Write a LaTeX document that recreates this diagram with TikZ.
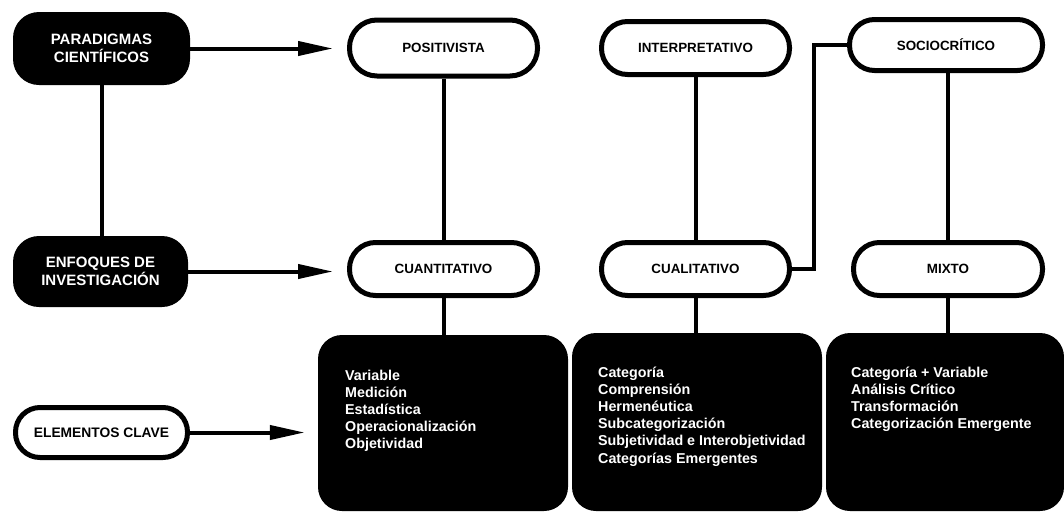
\documentclass[tikz,border=0pt]{standalone}
\usepackage{fontspec}
\setmainfont{Liberation Sans}
\usetikzlibrary{arrows.meta}
\begin{document}
\begin{tikzpicture}[x=1pt,y=-1pt,
  blk/.style={fill=black,text=white,rounded corners=26pt,inner sep=0pt,align=center,
    font=\fontsize{15}{18}\selectfont\bfseries},
  capsule/.style={draw=black,line width=5pt,fill=white,inner sep=0pt,align=center,
    rounded corners=26pt,font=\fontsize{13.4}{15}\selectfont\bfseries},
  bigbox/.style={fill=black,rounded corners=24pt,inner sep=0pt,minimum width=250pt},
  item/.style={text=white,anchor=north west,inner sep=0pt,align=left,
    font=\fontsize{14.3}{17.2}\selectfont\bfseries},
  conn/.style={line width=4pt},
  arr/.style={line width=4pt,-{Triangle[length=35pt,width=14pt]}}]
\useasboundingbox (0,0) rectangle (1064,512);

% left column
\node[blk,minimum width=177pt,minimum height=73pt] (par) at (101.5,48.5) {PARADIGMAS\\CIENTÍFICOS};
\node[blk,minimum width=175pt,minimum height=71pt] (enf) at (100.5,271.5) {ENFOQUES DE\\INVESTIGACIÓN};
\node[capsule,minimum width=172pt,minimum height=50pt,rounded corners=24.5pt,
  font=\fontsize{13.8}{15}\selectfont\bfseries] (elem) at (101.5,432.5) {ELEMENTOS CLAVE};

% paradigms
\node[capsule,minimum width=188pt,minimum height=56pt,rounded corners=27.5pt] (pos) at (443.5,48) {POSITIVISTA};
\node[capsule,minimum width=188pt,minimum height=53pt] (int) at (695.5,48) {INTERPRETATIVO};
\node[capsule,minimum width=193pt,minimum height=51pt,rounded corners=25pt] (soc) at (946,45) {SOCIOCRÍTICO};

% approaches
\node[capsule,minimum width=188pt,minimum height=53pt] (cuant) at (443.5,269) {CUANTITATIVO};
\node[capsule,minimum width=188pt,minimum height=53pt] (cual) at (695.5,269) {CUALITATIVO};
\node[capsule,minimum width=189pt,minimum height=53pt] (mix) at (948,269) {MIXTO};

% key elements boxes
\node[bigbox,minimum height=176pt] (cuantbox) at (443,423) {};
\node[bigbox,minimum height=178pt] (cualbox) at (697,422) {};
\node[bigbox,minimum width=238pt,minimum height=178pt] (mixbox) at (945,422) {};

\node[item] (cuanttxt) at (345,369.5) {Variable\\Medición\\Estadística\\Operacionalización\\Objetividad};
\node[item] (cualtxt) at (598,366.5) {Categoría\\Comprensión\\Hermenéutica\\Subcategorización\\Subjetividad e Interobjetividad\\Categorías Emergentes};
\node[item] (mixtxt) at (851,366.5) {Categoría + Variable\\Análisis Crítico\\Transformación\\Categorización Emergente};

% connectors
\draw[conn] (par.south) -- (enf.north -| par.south);
\draw[conn] (pos.south) -- (cuant.north);
\draw[conn] (int.south) -- (cual.north);
\draw[conn] (mix.north) -- (mix.north |- soc.south);
\draw[conn] (cuant.south) -- (cuant.south |- cuantbox.north);
\draw[conn] (cual.south) -- (cual.south |- cualbox.north);
\draw[conn] (mix.south) -- (mix.south |- mixbox.north);
\draw[conn] (cual.east) -| ([xshift=-33pt]soc.west) -- (soc.west);

% arrows
\draw[arr,shorten >=14pt] (par.east) -- (par.east -| pos.west);
\draw[arr,shorten >=14pt] (enf.east) -- (enf.east -| cuant.west);
\draw[arr,shorten >=13pt] (elem.east) -- (elem.east -| cuantbox.west);
\end{tikzpicture}
\end{document}
